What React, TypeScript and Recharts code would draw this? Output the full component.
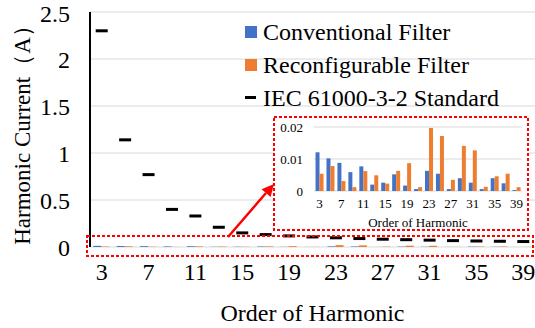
import React from 'react';
import { ComposedChart, BarChart, Bar, Line, XAxis, YAxis, CartesianGrid } from 'recharts';

const harmonicOrders = [3, 5, 7, 9, 11, 13, 15, 17, 19, 21, 23, 25, 27, 29, 31, 33, 35, 37, 39];
const conventionalFilter = [0.0121, 0.0102, 0.0088, 0.0059, 0.0077, 0.002, 0.0026, 0.0052, 0.0017, 0.0006, 0.0063, 0.0054, 0.0006, 0.004, 0.0026, 0.0006, 0.004, 0.0024, 0.0003];
const reconfigurableFilter = [0.0054, 0.0078, 0.0031, 0.0012, 0.0062, 0.0049, 0.0023, 0.0063, 0.0087, 0.0012, 0.0197, 0.0172, 0.0035, 0.0141, 0.0127, 0.0013, 0.0046, 0.0054, 0.0012];
const iecStandard = [2.3, 1.14, 0.77, 0.4, 0.33, 0.21, 0.15, 0.132, 0.118, 0.107, 0.098, 0.09, 0.083, 0.078, 0.073, 0.068, 0.064, 0.061, 0.058];
const mainYTicks = [0, 0.5, 1, 1.5, 2, 2.5];
const insetYTicks = [0, 0.01, 0.02];

const BLUE = '#4472C4';
const ORANGE = '#ED7D31';
const RED = '#FF0000';
const FONT = "'Liberation Serif', 'Times New Roman', serif";

const data = harmonicOrders.map((order, i) => ({
    order: String(order),
    conventional: conventionalFilter[i],
    reconfigurable: reconfigurableFilter[i],
    iec: iecStandard[i],
}));

const IecDash = (props: any) => {
    const { cx, cy, index } = props;
    if (cx == null || cy == null) return null;
    return <rect key={index} x={cx - 6} y={cy - 1.5} width={12} height={3} fill="#000" />;
};

const legendItems = [
    { label: 'Conventional Filter', color: BLUE, kind: 'square' },
    { label: 'Reconfigurable Filter', color: ORANGE, kind: 'square' },
    { label: 'IEC 61000-3-2 Standard', color: '#000', kind: 'dash' },
];

function ChartLegend() {
    return (
        <div style={{ position: 'absolute', left: 245, top: 15, fontFamily: FONT, fontSize: 24, color: '#000', lineHeight: 1 }}>
            {legendItems.map((it) => (
                <div key={it.label} style={{ display: 'flex', alignItems: 'center', height: 33, whiteSpace: 'nowrap' }}>
                    {it.kind === 'square'
                        ? <span style={{ display: 'inline-block', width: 12, height: 12, background: it.color, marginRight: 6 }} />
                        : <span style={{ display: 'inline-block', width: 11, height: 3, background: it.color, marginRight: 7 }} />}
                    <span>{it.label}</span>
                </div>
            ))}
        </div>
    );
}

function InsetChart() {
    return (
        <BarChart width={254} height={113} data={data} margin={{ top: 10, right: 6, left: 0, bottom: 0 }} barCategoryGap="14%" barGap={0}>
            <CartesianGrid vertical={false} stroke="#d9d9d9" />
            <XAxis dataKey="order" interval={1} axisLine={false} tickLine={false} height={39}
                tick={{ fill: '#000', fontSize: 13, fontFamily: FONT }}
                label={{ value: 'Order of Harmonic', position: 'insideBottom', offset: 3, fill: '#000', fontSize: 13, fontFamily: FONT }} />
            <YAxis width={40} domain={[0, 0.02]} ticks={insetYTicks} axisLine={false} tickLine={false} tickMargin={5}
                tick={{ fill: '#000', fontSize: 13, fontFamily: FONT }} />
            <Bar dataKey="conventional" fill={BLUE} isAnimationActive={false} />
            <Bar dataKey="reconfigurable" fill={ORANGE} isAnimationActive={false} />
        </BarChart>
    );
}

export default function App() {
    return (
        <div style={{ position: 'relative', width: 535, height: 328, background: '#fff', fontFamily: FONT }}>
            <style>{'body{margin:0}'}</style>
            <ComposedChart width={535} height={328} data={data} margin={{ top: 12, right: 0, left: 0, bottom: 0 }} barCategoryGap="14%" barGap={0}>
                <CartesianGrid vertical={false} stroke="#d9d9d9" />
                <XAxis dataKey="order" interval={1} axisLine={false} tickLine={false} height={81} tickMargin={10}
                    tick={{ fill: '#000', fontSize: 24, fontFamily: FONT }}
                    label={{ value: 'Order of Harmonic', position: 'insideBottom', offset: 7, fill: '#000', fontSize: 24, fontFamily: FONT }} />
                <YAxis width={90} domain={[0, 2.5]} ticks={mainYTicks} tickLine={false} tickMargin={14}
                    axisLine={{ stroke: '#000', strokeWidth: 2 }}
                    tick={{ fill: '#000', fontSize: 24, fontFamily: FONT }}
                    label={{ value: 'Harmonic Current（A）', angle: -90, position: 'insideLeft', offset: 22, fill: '#000', fontSize: 23, fontFamily: FONT, style: { textAnchor: 'middle' } }} />
                <Bar dataKey="conventional" name="Conventional Filter" fill={BLUE} isAnimationActive={false} />
                <Bar dataKey="reconfigurable" name="Reconfigurable Filter" fill={ORANGE} isAnimationActive={false} />
                <Line dataKey="iec" name="IEC 61000-3-2 Standard" stroke="none" dot={IecDash} activeDot={false} isAnimationActive={false} />
            </ComposedChart>
            <ChartLegend />
            <div style={{ position: 'absolute', left: 274, top: 117, width: 254, height: 113, background: '#fff' }}>
                <InsetChart />
            </div>
            <svg width={535} height={328} style={{ position: 'absolute', left: 0, top: 0, pointerEvents: 'none' }}>
                <rect x={87} y={236} width={446} height={20} fill="none" stroke={RED} strokeWidth={2} strokeDasharray="3 2" />
                <rect x={274} y={117} width={254} height={113} fill="none" stroke={RED} strokeWidth={2} strokeDasharray="3 2" />
                <line x1={228} y1={237} x2={266} y2={193} stroke={RED} strokeWidth={2.5} />
                <polygon points="274,184 270.6,197 261.6,189.2" fill={RED} />
            </svg>
        </div>
    );
}
